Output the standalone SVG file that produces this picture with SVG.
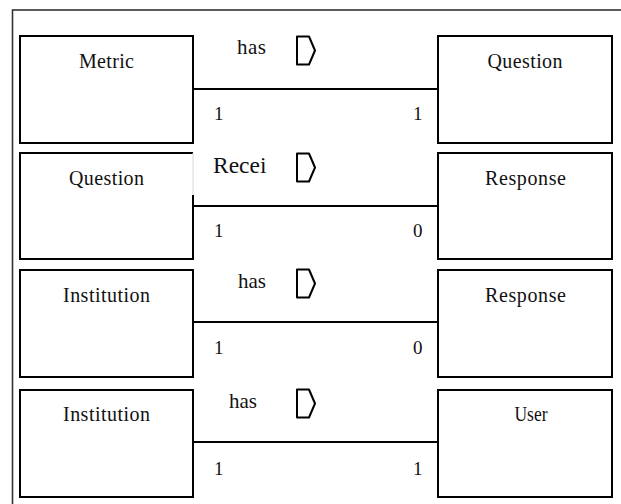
<svg xmlns="http://www.w3.org/2000/svg" width="621" height="504" viewBox="0 0 621 504">
<style>
.box{fill:#fff;stroke:#000;stroke-width:2}
.frame{fill:none;stroke:#333;stroke-width:1.6}
.conn{stroke:#000;stroke-width:2;fill:none}
.tag{fill:#fff;stroke:#000;stroke-width:2;stroke-linejoin:round}
text{font-family:"Liberation Serif","Times New Roman",serif;fill:#111}
.lbl{font-size:20px;text-anchor:middle}
.rel{font-size:21px}
.num{font-size:19px}
.big{font-size:23.5px}
</style>
<defs>
<polygon id="tagshape" class="tag" points="297,0 309,0 315,14 309,28 297,28"/>
</defs>
<rect class="frame" x="12.5" y="10" width="620" height="500"/>

<g id="connectors">
<line class="conn" x1="193" y1="89" x2="438" y2="89"/>
<line class="conn" x1="193" y1="206" x2="438" y2="206"/>
<line class="conn" x1="193" y1="322" x2="438" y2="322"/>
<line class="conn" x1="193" y1="442" x2="438" y2="442"/>
</g>

<g id="rel1">
<text class="rel" x="237" y="53.5" textLength="29" lengthAdjust="spacing">has</text>
<use href="#tagshape" y="36.5"/>
<text class="num" x="214" y="120">1</text>
<text class="num" x="413" y="120">1</text>
</g>
<g id="rel2">
<text class="big" x="213" y="173">Recei</text>
<use href="#tagshape" y="153.5"/>
<text class="num" x="214" y="237">1</text>
<text class="num" x="413" y="237">0</text>
</g>
<g id="rel3">
<text class="rel" x="238" y="288" textLength="28" lengthAdjust="spacing">has</text>
<use href="#tagshape" y="269.5"/>
<text class="num" x="214" y="354">1</text>
<text class="num" x="413" y="354">0</text>
</g>
<g id="rel4">
<text class="rel" x="229" y="407.5" textLength="28" lengthAdjust="spacing">has</text>
<use href="#tagshape" y="389.5"/>
<text class="num" x="214" y="475">1</text>
<text class="num" x="413" y="475">1</text>
</g>

<g id="metric">
<rect class="box" x="20" y="36" width="173" height="107"/>
<text class="lbl" x="106.5" y="68" textLength="55" lengthAdjust="spacing">Metric</text>
</g>
<g id="question1">
<rect class="box" x="438" y="36" width="174" height="107"/>
<text class="lbl" x="525" y="68" textLength="75" lengthAdjust="spacing">Question</text>
</g>
<g id="question2">
<path class="box" d="M193,195 V259 H20 V153 H193"/>
<line x1="193" y1="153" x2="193" y2="195" stroke="#d8d8d8" stroke-width="1"/>
<text class="lbl" x="106.5" y="185" textLength="75" lengthAdjust="spacing">Question</text>
</g>
<g id="response1">
<rect class="box" x="438" y="153" width="174" height="106"/>
<text class="lbl" x="525.5" y="185" textLength="81" lengthAdjust="spacing">Response</text>
</g>
<g id="institution1">
<rect class="box" x="20" y="270" width="173" height="107"/>
<text class="lbl" x="106.5" y="302" textLength="87" lengthAdjust="spacing">Institution</text>
</g>
<g id="response2">
<rect class="box" x="438" y="270" width="174" height="107"/>
<text class="lbl" x="525.5" y="302" textLength="81" lengthAdjust="spacing">Response</text>
</g>
<g id="institution2">
<rect class="box" x="20" y="390" width="173" height="107"/>
<text class="lbl" x="106.5" y="421" textLength="87" lengthAdjust="spacing">Institution</text>
</g>
<g id="user">
<rect class="box" x="438" y="390" width="174" height="107"/>
<text class="lbl" x="531" y="421" textLength="33" lengthAdjust="spacingAndGlyphs">User</text>
</g>
</svg>
